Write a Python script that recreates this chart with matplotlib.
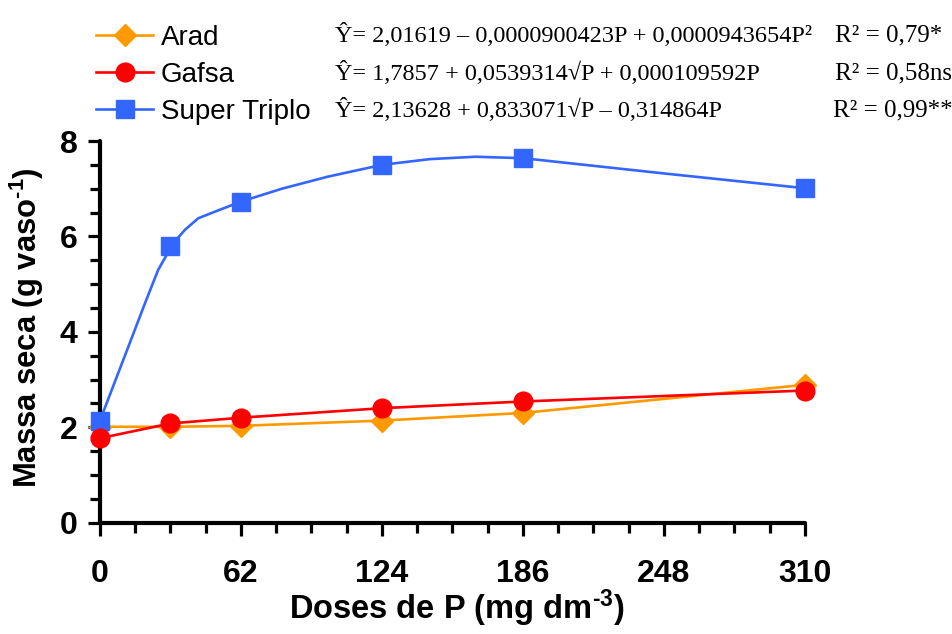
import matplotlib
matplotlib.use("Agg")
import matplotlib.pyplot as plt
from matplotlib.lines import Line2D
from matplotlib.ticker import MultipleLocator, FixedLocator

plt.rcParams['font.family'] = ['Liberation Sans', 'DejaVu Sans']
plt.rcParams['mathtext.fontset'] = 'custom'
plt.rcParams['mathtext.rm'] = 'Liberation Sans:bold'
plt.rcParams['mathtext.bf'] = 'Liberation Sans:bold'
plt.rcParams['mathtext.default'] = 'rm'

# ---- data ----
doses = [0, 31, 62, 124, 186, 310]
arad = [2.01, 2.01, 2.03, 2.14, 2.30, 2.89]
gafsa = [1.77, 2.08, 2.20, 2.40, 2.54, 2.77]
super_triplo = [2.14, 5.79, 6.73, 7.50, 7.64, 7.01]

# fitted curve for Super Triplo
st_curve_x = [0, 12.5, 19.8, 25.6, 29.3, 31, 37.4, 43.2, 50.6, 62, 80, 100, 124, 145, 165, 186, 248, 310]
st_curve_y = [2.14, 3.69, 4.60, 5.30, 5.61, 5.79, 6.14, 6.38, 6.52, 6.73, 7.0, 7.25, 7.50, 7.62, 7.67, 7.64, 7.32, 7.01]

series_names = ['Arad', 'Gafsa', 'Super Triplo']
equations = [
    'Ŷ= 2,01619 – 0,0000900423P + 0,0000943654P²',
    'Ŷ= 1,7857 + 0,0539314√P + 0,000109592P',
    'Ŷ= 2,13628 + 0,833071√P – 0,314864P',
]
r2_texts = ['R² = 0,79*', 'R² = 0,58ns', 'R² = 0,99**']

x_ticks = [0, 62, 124, 186, 248, 310]
y_ticks = [0, 2, 4, 6, 8]

c_arad = '#FF9900'
c_gafsa = '#FF0000'
c_st = '#3366FF'

fig = plt.figure(figsize=(9.53, 6.34), dpi=100)
ax = fig.add_axes([0.1049, 0.1756, 0.7398, 0.602])

lw = 1.9
ax.plot(doses, arad, color=c_arad, lw=lw, zorder=3, clip_on=False)
ax.plot(doses, arad, ls='none', marker='D', ms=11, color=c_arad, zorder=3, clip_on=False)
ax.plot(st_curve_x, st_curve_y, color=c_st, lw=lw, zorder=4, clip_on=False)
ax.plot(doses, super_triplo, ls='none', marker='s', ms=12.5, color=c_st, zorder=4, clip_on=False)
ax.plot(doses, gafsa, color=c_gafsa, lw=lw, zorder=5, clip_on=False)
ax.plot(doses, gafsa, ls='none', marker='o', ms=13.5, color=c_gafsa, zorder=5, clip_on=False)

ax.set_xlim(0, 310)
ax.set_ylim(0, 8)
ax.xaxis.set_major_locator(FixedLocator(x_ticks))
ax.xaxis.set_minor_locator(MultipleLocator(15.5))
ax.yaxis.set_major_locator(FixedLocator(y_ticks))
ax.yaxis.set_minor_locator(MultipleLocator(0.5))
ax.set_xticklabels([str(t) for t in x_ticks])
ax.set_yticklabels([str(t) for t in y_ticks])

for s in ['top', 'right']:
    ax.spines[s].set_visible(False)
for s in ['left', 'bottom']:
    ax.spines[s].set_linewidth(3)
    ax.spines[s].set_capstyle('round')

ax.tick_params(axis='both', which='major', length=9, width=2.3, direction='out')
ax.tick_params(axis='both', which='minor', length=7, width=2.3, direction='out')
ax.tick_params(axis='x', which='major', pad=17, labelsize=23)
ax.tick_params(axis='y', which='major', pad=7, labelsize=23)
for lab in ax.get_xticklabels() + ax.get_yticklabels():
    lab.set_fontweight('bold')

ax.set_xlabel(r'Doses de P (mg dm$^{\text{-}3}$)', fontsize=23.5, fontweight='bold')
ax.set_ylabel(r'Massa seca (g vaso$^{\text{-}1}$)', fontsize=22.3, fontweight='bold')
ax.xaxis.set_label_coords(0.506, -0.17)
ax.yaxis.set_label_coords(-0.076, 0.51)

handles = [
    Line2D([], [], color=c_arad, lw=lw, marker='D', ms=11),
    Line2D([], [], color=c_gafsa, lw=lw, marker='o', ms=13.5),
    Line2D([], [], color=c_st, lw=lw, marker='s', ms=12.5),
]
leg = fig.legend(handles, series_names, loc='upper left', bbox_to_anchor=(0.101, 0.961),
                 frameon=False, fontsize=20, handlelength=2.05, handletextpad=0.28,
                 labelspacing=0.4, borderpad=0, borderaxespad=0)

rows_y = [35, 73, 110]
r2_x = [835, 835, 833]
for eq, r2, yy, rx in zip(equations, r2_texts, rows_y, r2_x):
    fig.text(335 / 953, 1 - yy / 634, eq, fontsize=17.5, va='center', ha='left',
             family=['Liberation Serif', 'DejaVu Serif'])
    fig.text(rx / 953, 1 - yy / 634, r2, fontsize=18, va='center', ha='left',
             family=['Liberation Serif', 'DejaVu Serif'])

fig.savefig('out.png', dpi=100)
